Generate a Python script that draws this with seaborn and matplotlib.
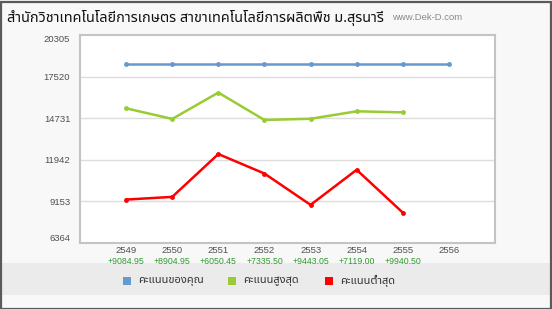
import matplotlib
matplotlib.use("Agg")
import matplotlib.pyplot as plt
import matplotlib.transforms as mtransforms
from matplotlib.patches import Rectangle
import seaborn as sns
import pandas as pd

years = [2549, 2550, 2551, 2552, 2553, 2554, 2555, 2556]
your_score = [18350, 18350, 18350, 18350, 18350, 18350, 18350, 18350]
max_score = [15390, 14680, 16445, 14610, 14690, 15190, 15120]
min_score = [9275, 9455, 12325, 11020, 8920, 11270, 8400]
diff_labels = ["+9084.95", "+8904.95", "+6050.45", "+7335.50", "+9443.05", "+7119.00", "+9940.50"]
yticks = [6364, 9153, 11942, 14731, 17520, 20305]
series_names = ["คะแนนของคุณ", "คะแนนสูงสุด", "คะแนนต่ำสุด"]
colors = ["#6699cc", "#99cc33", "#ff0000"]
title = "สำนักวิชาเทคโนโลยีการเกษตร สาขาเทคโนโลยีการผลิตพืช ม.สุรนารี"
site = "www.Dek-D.com"

rows = []
for name, vals in zip(series_names, [your_score, max_score, min_score]):
    for y, v in zip(years, vals):
        rows.append({"year": y, "score": v, "series": name})
df = pd.DataFrame(rows)

sns.set_style("white")
thai = ["Noto Sans Thai", "DejaVu Sans"]
num_font = ["Liberation Sans", "DejaVu Sans"]

fig = plt.figure(figsize=(5.52, 3.09), dpi=100)
fig.patch.set_facecolor("#f8f8f8")
W, H = 552, 309

# legend band
fig.patches.append(Rectangle((0, (H - 295) / H), 1, 32 / H, transform=fig.transFigure,
                             facecolor="#ebebeb", edgecolor="none", zorder=0))
# outer border
fig.patches.append(Rectangle((0.5 / W, 0.5 / H), 1 - 2 / W, 1 - 2 / H, transform=fig.transFigure,
                             facecolor="none", edgecolor="#5a5a5a", linewidth=1.6, zorder=10))

ax = fig.add_axes([80 / W, (H - 243) / H, (495 - 80) / W, (243 - 35) / H])
ax.set_facecolor("white")

sns.lineplot(data=df, x="year", y="score", hue="series", hue_order=series_names,
             palette=colors, marker="o", markersize=3.5, markeredgewidth=0,
             linewidth=1.8, ax=ax, legend=False, estimator=None, sort=False)

ax.set_xlim(2548, 2557)
ax.set_ylim(yticks[0], yticks[-1])
ax.set_yticks(yticks)
ax.set_yticklabels([str(t) for t in yticks], fontsize=6.8, color="#505050", family=num_font)
tl = ax.get_yticklabels()
tl[0].set_va("bottom")
tl[-1].set_va("top")
ax.set_xticks(years)
ax.set_xticklabels([str(y) for y in years], fontsize=6.8, color="#505050", family=num_font)
ax.tick_params(axis="both", length=0, pad=7)
ax.tick_params(axis="x", pad=2)
ax.set_xlabel("")
ax.set_ylabel("")
for t in yticks[1:-1]:
    ax.axhline(t, color="#dcdcdc", linewidth=1, zorder=0)
for s in ax.spines.values():
    s.set_color("#c4c4c4")
    s.set_linewidth(1.5)

trans = mtransforms.blended_transform_factory(ax.transData, fig.transFigure)
for y, lab in zip(years, diff_labels):
    fig.text(y, (H - 262) / H, lab, transform=trans, ha="center", va="center",
             fontsize=6.3, color="#2f9a2f", family=num_font)

fig.text(7 / W, (H - 18) / H, title, ha="left", va="center", fontsize=10.4,
         color="#111111", family=thai)
fig.text(392 / W, (H - 18) / H, site, ha="left", va="center", fontsize=6.8,
         color="#8a8a8a", family=num_font)

# legend
for name, c, xs in zip(series_names, colors, [123, 228, 325]):
    fig.patches.append(Rectangle((xs / W, (H - 285) / H), 8 / W, 8 / H, transform=fig.transFigure,
                                 facecolor=c, edgecolor="none", zorder=5))
    fig.text((xs + 15) / W, (H - 281) / H, name, ha="left", va="center", fontsize=8,
             color="#333333", family=thai)

fig.savefig("out.png", dpi=100, facecolor=fig.get_facecolor())
